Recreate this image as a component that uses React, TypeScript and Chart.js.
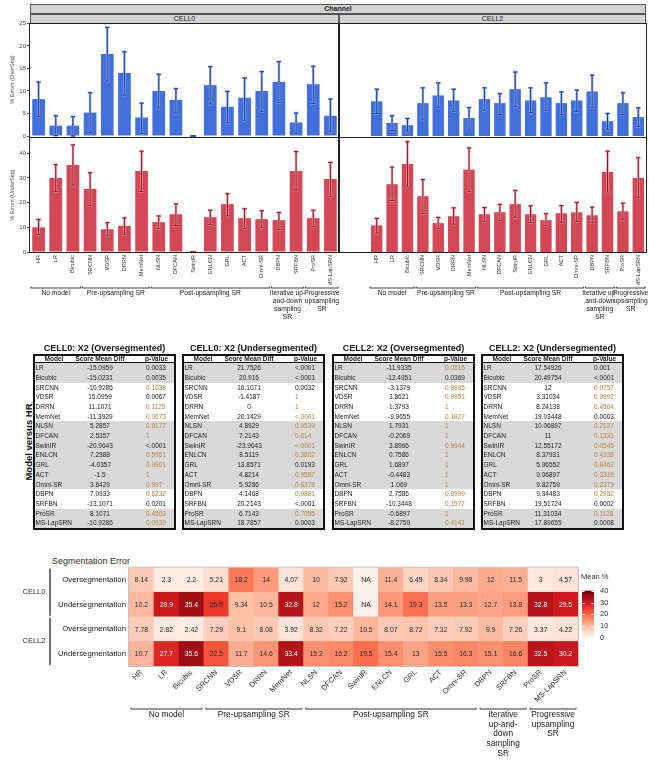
import React, { useEffect, useRef } from "react";
import { Chart, registerables } from "chart.js";
Chart.register(...registerables);

const FONT = "'Liberation Sans', Arial, Helvetica, sans-serif";

// ---------- categories ----------
const models = ["HR", "LR", "Bicubic", "SRCNN", "VDSR", "DRRN", "MemNet", "NLSN", "DFCAN", "SwinIR", "ENLCN", "GRL", "ACT", "Omni-SR", "DBPN", "SRFBN", "ProSR", "MS-LapSRN"];
const groupStart = [0, 3, 7, 14, 16];
const groupEnd = [2, 6, 13, 15, 17];
const barGroupLabels = [["No model"], ["Pre-upsampling SR"], ["Post-upsampling SR"], ["Iterative up-", "and-down", "sampling", "SR"], ["Progressive", "upsampling", "SR"]];
const heatGroupLabels = [["No model"], ["Pre-upsampling SR"], ["Post-upsampling SR"], ["Iterative", "up-and-", "down", "sampling", "SR"], ["Progressive", "upsampling", "SR"]];

// ---------- bar chart series (mean, lower and upper error) ----------
const cell0OverMean = [8.2, 2.3, 2.3, 5.2, 18.2, 14.0, 4.1, 10.0, 8.0, 0, 11.3, 6.5, 8.5, 10.0, 12.0, 3.0, 11.5, 4.5];
const cell0OverLo = [4.3, 0.1, 0.0, 0.8, 12.2, 9.1, 0.6, 6.2, 5.1, 0, 7.1, 2.9, 3.5, 5.5, 7.4, 0.6, 7.2, 0.9];
const cell0OverHi = [12.0, 4.5, 4.3, 9.6, 24.1, 18.7, 7.3, 13.7, 10.5, 0, 15.4, 9.9, 12.9, 14.3, 16.5, 5.1, 15.5, 8.2];

const cell2OverMean = [7.7, 2.9, 2.4, 7.3, 9.0, 7.9, 4.0, 8.2, 7.3, 10.4, 7.9, 8.6, 7.3, 7.9, 9.9, 3.3, 7.3, 4.2];
const cell2OverLo = [5.0, 1.2, 1.1, 3.75, 6.4, 5.5, 1.3, 5.6, 4.8, 6.6, 5.2, 5.6, 4.8, 5.5, 6.25, 1.5, 4.8, 2.1];
const cell2OverHi = [10.4, 4.5, 3.9, 10.7, 11.8, 10.4, 6.3, 10.7, 9.4, 14.2, 10.7, 11.8, 9.8, 10.2, 13.5, 5.0, 9.6, 6.25];

const cell0UnderMean = [10.0, 30.0, 35.3, 25.6, 9.2, 10.6, 32.8, 12.1, 15.3, 0, 14.1, 19.4, 13.7, 13.3, 12.9, 32.8, 13.7, 29.6];
const cell0UnderLo = [7.05, 24.4, 27.1, 18.7, 6.5, 7.2, 24.5, 9.4, 10.7, 0, 11.1, 14.6, 9.5, 9.8, 9.1, 25.1, 10.3, 22.4];
const cell0UnderHi = [13.2, 35.4, 43.4, 32.1, 11.9, 13.8, 40.8, 14.6, 19.5, 0, 16.9, 23.6, 17.5, 16.7, 16.0, 40.7, 16.9, 36.3];

const cell2UnderMean = [10.8, 27.5, 35.7, 22.6, 11.7, 14.5, 33.4, 15.3, 16.1, 19.4, 15.3, 12.9, 15.7, 16.1, 14.9, 32.4, 16.5, 30.0];
const cell2UnderLo = [7.7, 20.9, 26.4, 15.6, 9.5, 11.3, 24.4, 12.3, 12.7, 14.1, 11.9, 10.6, 12.1, 12.3, 11.8, 24.3, 13.3, 22.2];
const cell2UnderHi = [13.6, 34.4, 44.7, 29.4, 14.0, 17.9, 42.2, 18.0, 19.3, 24.9, 18.7, 15.5, 18.8, 20.1, 18.2, 40.8, 19.8, 38.2];

// ---------- tables ----------
const tableModels = ["LR", "Bicubic", "SRCNN", "VDSR", "DRRN", "MemNet", "NLSN", "DFCAN", "SwinIR", "ENLCN", "GRL", "ACT", "Omni-SR", "DBPN", "SRFBN", "ProSR", "MS-LapSRN"];
const tableGray = [1, 1, 0, 0, 0, 0, 1, 1, 1, 1, 1, 1, 1, 0, 0, 1, 1];

const t1Title = "CELL0: X2 (Oversegmented)";
const t1Diff = ["-15.0959", "-15.0231", "-10.9286", "15.0959", "11.1071", "-11.3929", "5.2857", "2.5357", "-20.9643", "7.2388", "-4.0357", "-1.5", "3.6429", "7.0933", "-13.1071", "8.1071", "-10.9286"];
const t1P = ["0.0033", "0.0035", "0.1038", "0.0067", "0.1125", "0.0673", "0.9177", "1", "<.0001", "0.5951", "0.9901", "1", "0.997", "0.6232", "0.0201", "0.4503", "0.0939"];
const t1Hl = [0, 0, 1, 0, 1, 1, 1, 1, 0, 1, 1, 1, 1, 1, 0, 1, 1];

const t2Title = "CELL0: X2 (Undersegmented)";
const t2Diff = ["21.7526", "20.916", "16.1071", "-1.4187", "0", "20.1429", "4.8929", "7.2143", "-23.9643", "8.5119", "13.8571", "4.8214", "5.9286", "4.1468", "20.2143", "6.7143", "18.7857"];
const t2P = ["<.0001", "<.0001", "0.0032", "1", "1", "<.0001", "0.9539", "0.614", "<.0001", "0.3802", "0.0193", "0.9587", "0.8378", "0.9881", "<.0001", "0.7055", "0.0003"];
const t2Hl = [0, 0, 0, 1, 1, 1, 1, 1, 1, 1, 0, 1, 1, 1, 0, 1, 0];

const t3Title = "CELL2: X2 (Oversegmented)";
const t3Diff = ["-11.9335", "-12.4951", "-3.1379", "3.8621", "1.3793", "-9.9655", "1.7931", "-0.2069", "3.8966", "0.7586", "1.6897", "-0.4483", "1.069", "2.7586", "-10.3448", "-0.6897", "-8.2759"];
const t3P = ["0.0515", "0.0369", "0.9995", "0.9951", "1", "0.1827", "1", "1", "0.9944", "1", "1", "1", "1", "0.9999", "0.1577", "1", "0.4141"];
const t3Hl = [1, 0, 1, 1, 1, 1, 1, 1, 1, 1, 1, 1, 1, 1, 1, 1, 1];

const t4Title = "CELL2: X2 (Undersegmented)";
const t4Diff = ["17.54926", "20.49754", "12", "3.31034", "8.24138", "19.03448", "10.06897", "11", "12.55172", "8.37931", "5.96552", "9.06897", "9.82759", "9.34483", "19.51724", "11.31034", "17.89655"];
const t4P = ["0.001", "<.0001", "0.0757", "0.9992", "0.4564", "0.0003", "0.2127", "0.1331", "0.0545", "0.4338", "0.8462", "0.3318", "0.2379", "0.2952", "0.0002", "0.1128", "0.0008"];
const t4Hl = [0, 0, 1, 1, 1, 0, 1, 1, 1, 1, 1, 1, 1, 1, 0, 1, 0];

// ---------- heatmap ----------
const heatRowNames = ["Oversegmentation", "Undersegmentation", "Oversegmentation", "Undersegmentation"];
const heatRowKeys = ["c0o", "c0u", "c2o", "c2u"];
const heatCellNames = ["CELL0", "CELL2"];
const heatC0Over = [8.14, 2.3, 2.2, 5.21, 18.2, 14, 4.07, 10, 7.92, null, 11.4, 6.49, 8.34, 9.98, 12, 11.5, 3, 4.57];
const heatC0Under = [10.2, 29.9, 35.4, 25.5, 9.34, 10.5, 32.8, 12, 15.2, null, 14.1, 19.3, 13.5, 13.3, 12.7, 13.8, 32.8, 29.5];
const heatC2Over = [7.78, 2.82, 2.42, 7.29, 9.1, 8.08, 3.92, 8.32, 7.22, 10.5, 8.07, 8.72, 7.32, 7.92, 9.9, 7.26, 3.37, 4.22];
const heatC2Under = [10.7, 27.7, 35.6, 22.5, 11.7, 14.6, 33.4, 15.2, 16.2, 19.5, 15.4, 13, 15.5, 16.3, 15.1, 16.6, 32.5, 30.2];
const colorTicks = [0, 10, 20, 30, 40];

const redStops = ["#fff5f0", "#fee0d2", "#fcbba1", "#fc9272", "#fb6a4a", "#ef3b2c", "#cb181d", "#a50f15", "#67000d"];
function hexRgb(h: string) {
  return [parseInt(h.slice(1, 3), 16), parseInt(h.slice(3, 5), 16), parseInt(h.slice(5, 7), 16)];
}
function redScale(v: number) {
  const t = Math.max(0, Math.min(1, v / 40)) * 8;
  const i = Math.min(7, Math.floor(t));
  const f = t - i;
  const a = hexRgb(redStops[i]);
  const b = hexRgb(redStops[i + 1]);
  const c = a.map((x, k) => Math.round(x + (b[k] - x) * f));
  return `rgb(${c[0]},${c[1]},${c[2]})`;
}

function drawGroups(chart: any, labels: string[][], opt: any) {
  const xs = chart.scales.x;
  const ctx = chart.ctx;
  const half = (xs.getPixelForValue(1) - xs.getPixelForValue(0)) / 2;
  const y = xs.bottom + opt.gapY;
  ctx.save();
  groupStart.forEach((s, g) => {
    const x0 = xs.getPixelForValue(s) - half + opt.inset;
    const x1 = xs.getPixelForValue(groupEnd[g]) + half - opt.inset;
    ctx.strokeStyle = opt.lineColor;
    ctx.lineWidth = opt.lineWidth;
    ctx.beginPath();
    ctx.moveTo(x0, y);
    ctx.lineTo(x1, y);
    ctx.moveTo(x0, y - 1.5);
    ctx.lineTo(x0, y + 0.5);
    ctx.moveTo(x1, y - 1.5);
    ctx.lineTo(x1, y + 0.5);
    ctx.stroke();
    ctx.fillStyle = "#222";
    ctx.font = `${opt.fontSize}px ${FONT}`;
    ctx.textAlign = "center";
    ctx.textBaseline = "middle";
    labels[g].forEach((ln, k) => {
      ctx.fillText(ln, (x0 + x1) / 2, y + opt.firstLine + k * opt.lineH);
    });
  });
  ctx.restore();
}

function BarPanel(p: any) {
  const ref = useRef<HTMLCanvasElement | null>(null);
  useEffect(() => {
    if (!ref.current) return;
    const errPlugin = {
      id: "errbars",
      afterDatasetsDraw(chart: any) {
        const ctx = chart.ctx;
        const meta = chart.getDatasetMeta(0);
        const ys = chart.scales.y;
        ctx.save();
        meta.data.forEach((bar: any, i: number) => {
          const x = bar.x;
          const yl = ys.getPixelForValue(p.lo[i]);
          const yh = ys.getPixelForValue(p.hi[i]);
          const cap = p.hi[i] === 0 ? 3 : 2.2;
          const path = () => {
            ctx.beginPath();
            ctx.moveTo(x, yl);
            ctx.lineTo(x, yh);
            ctx.moveTo(x - cap, yh);
            ctx.lineTo(x + cap, yh);
            ctx.moveTo(x - cap, yl);
            ctx.lineTo(x + cap, yl);
            ctx.stroke();
          };
          ctx.strokeStyle = p.light;
          ctx.lineWidth = 2.4;
          path();
          ctx.strokeStyle = p.dark;
          ctx.lineWidth = 1;
          path();
        });
        ctx.restore();
      },
    };
    const groupPlugin = {
      id: "groups",
      afterDraw(chart: any) {
        drawGroups(chart, barGroupLabels, { gapY: 3, inset: 1, lineColor: "#444", lineWidth: 1.1, fontSize: 6.7, firstLine: 5, lineH: 8 });
      },
    };
    const xScale: any = {
      display: p.showX,
      grid: { display: false, drawTicks: false },
      border: { display: false },
      ticks: { autoSkip: false, minRotation: 90, maxRotation: 90, padding: 3, color: "#333", font: { family: FONT, size: 5.6 } },
    };
    if (p.xHeight) xScale.afterFit = (s: any) => { s.height = p.xHeight; };
    const chart = new Chart(ref.current, {
      type: "bar",
      data: {
        labels: models,
        datasets: [{ data: p.mean, backgroundColor: p.fill, borderWidth: 0, barPercentage: 0.74, categoryPercentage: 1 }],
      },
      options: {
        animation: false,
        responsive: false,
        maintainAspectRatio: false,
        layout: { padding: p.pad },
        plugins: { legend: { display: false }, tooltip: { enabled: false }, title: { display: false } },
        scales: {
          x: xScale,
          y: {
            display: p.showY,
            min: 0,
            max: p.yMax,
            grid: { drawOnChartArea: false, drawTicks: true, tickLength: 3, color: "#555" },
            border: { display: false },
            ticks: { stepSize: p.yStep, includeBounds: false, padding: 1, color: "#444", font: { family: FONT, size: 6 } },
            title: { display: !!p.yTitle, text: p.yTitle, color: "#555", font: { family: FONT, size: 5.5 }, padding: { top: 9, bottom: 0 } },
            afterFit: (s: any) => { s.width = 30; },
          },
        },
      } as any,
      plugins: p.showX ? [errPlugin, groupPlugin] : [errPlugin],
    });
    return () => chart.destroy();
  }, []);
  return (
    <canvas
      ref={ref}
      width={p.width}
      height={p.height}
      style={{ position: "absolute", left: p.left, top: p.top, width: p.width, height: p.height }}
    />
  );
}

function Heatmap() {
  const ref = useRef<HTMLCanvasElement | null>(null);
  useEffect(() => {
    if (!ref.current) return;
    const heatValues = [heatC0Over, heatC0Under, heatC2Over, heatC2Under];
    const heatPlugin = {
      id: "heat",
      beforeDatasetsDraw(chart: any) {
        const { ctx, chartArea } = chart;
        const x = chart.scales.x;
        const y = chart.scales.y;
        const cw = x.getPixelForValue(1) - x.getPixelForValue(0);
        const ch = Math.abs(y.getPixelForValue(1) - y.getPixelForValue(0));
        ctx.save();
        chart.data.datasets.forEach((ds: any, r: number) => {
          ds.data.forEach((pt: any, i: number) => {
            const cx = x.getPixelForValue(i);
            const cy = y.getPixelForValue(r);
            ctx.fillStyle = pt.v == null ? "#fdf1ec" : redScale(pt.v);
            ctx.fillRect(cx - cw / 2 - 0.3, cy - ch / 2 - 0.3, cw + 0.6, ch + 0.6);
          });
        });
        ctx.font = `6.8px ${FONT}`;
        ctx.textAlign = "center";
        ctx.textBaseline = "middle";
        chart.data.datasets.forEach((ds: any, r: number) => {
          ds.data.forEach((pt: any, i: number) => {
            const cx = x.getPixelForValue(i);
            const cy = y.getPixelForValue(r);
            ctx.fillStyle = pt.v != null && pt.v > 26 ? "#ffffff" : "#2a2a2a";
            ctx.fillText(pt.v == null ? "NA" : String(pt.v), cx, cy + 0.5);
          });
        });
        ctx.strokeStyle = "#c4c4c4";
        ctx.lineWidth = 1;
        ctx.strokeRect(chartArea.left - 0.5, chartArea.top - 0.5, chartArea.width + 1, chartArea.height + 1);
        ctx.restore();
      },
      afterDraw(chart: any) {
        const { ctx, chartArea } = chart;
        const y = chart.scales.y;
        const ch = Math.abs(y.getPixelForValue(1) - y.getPixelForValue(0));
        ctx.save();
        heatCellNames.forEach((nm, c) => {
          const top = y.getPixelForValue(c * 2) - ch / 2 + 1;
          const bot = y.getPixelForValue(c * 2 + 1) + ch / 2 - 1;
          const lx = chartArea.left - 79;
          ctx.strokeStyle = "#333";
          ctx.lineWidth = 1.4;
          ctx.beginPath();
          ctx.moveTo(lx, top);
          ctx.lineTo(lx, bot);
          ctx.stroke();
          ctx.fillStyle = "#333";
          ctx.font = `7.5px ${FONT}`;
          ctx.textAlign = "center";
          ctx.textBaseline = "middle";
          ctx.fillText(nm, chartArea.left - 95, (top + bot) / 2);
        });
        const bx = chartArea.right + 4;
        const bw = 12;
        const yTop = chartArea.top + 23;
        const yBot = chartArea.top + 70.5;
        const vy = (v: number) => yBot - (v / 40) * (yBot - yTop);
        const grad = ctx.createLinearGradient(0, yBot, 0, yTop);
        for (let k = 0; k <= 20; k++) grad.addColorStop(k / 20, redScale((k / 20) * 40));
        ctx.fillStyle = grad;
        ctx.fillRect(bx, yTop, bw, yBot - yTop);
        ctx.strokeStyle = "#ffffff";
        ctx.lineWidth = 1;
        ctx.fillStyle = "#333";
        ctx.font = `7.5px ${FONT}`;
        ctx.textAlign = "left";
        ctx.textBaseline = "middle";
        colorTicks.forEach((t) => {
          const ty = Math.round(vy(t)) + 0.5;
          ctx.beginPath();
          ctx.moveTo(bx, ty);
          ctx.lineTo(bx + 2.5, ty);
          ctx.moveTo(bx + bw - 2.5, ty);
          ctx.lineTo(bx + bw, ty);
          ctx.stroke();
          ctx.fillText(String(t), bx + bw + 6, vy(t));
        });
        ctx.fillText("Mean %", bx - 1, chartArea.top + 9);
        ctx.restore();
        drawGroups(chart, heatGroupLabels, { gapY: 3, inset: 2, lineColor: "#777", lineWidth: 1.4, fontSize: 8.3, firstLine: 6, lineH: 9.6 });
      },
    };
    const chart = new Chart(ref.current, {
      type: "line",
      data: {
        labels: models,
        datasets: heatRowKeys.map((k, r) => ({
          data: heatValues[r].map((v, i) => ({ x: models[i], y: k, v })),
          showLine: false,
          pointRadius: 0,
          pointHoverRadius: 0,
        })),
      },
      options: {
        animation: false,
        responsive: false,
        maintainAspectRatio: false,
        layout: { padding: { top: 7, bottom: 55, left: 0, right: 71 } },
        plugins: { legend: { display: false }, tooltip: { enabled: false } },
        scales: {
          x: {
            type: "category",
            labels: models,
            offset: true,
            grid: { display: false, drawTicks: false },
            border: { display: false },
            ticks: { autoSkip: false, minRotation: 45, maxRotation: 45, padding: 2, color: "#333", font: { family: FONT, size: 7.5 } },
            afterFit: (s: any) => { s.height = 40; },
          },
          y: {
            type: "category",
            labels: heatRowKeys,
            offset: true,
            grid: { display: false, drawTicks: false },
            border: { display: false },
            ticks: { padding: 3, color: "#222", font: { family: FONT, size: 7.8 }, callback: (_v: any, i: number) => heatRowNames[i] },
            afterFit: (s: any) => { s.width = 129; },
          },
        },
      } as any,
      plugins: [heatPlugin],
    });
    return () => chart.destroy();
  }, []);
  return <canvas ref={ref} width={649} height={201} style={{ position: "absolute", left: 0, top: 560, width: 649, height: 201 }} />;
}

function StatTable(p: any) {
  return (
    <div style={{ position: "absolute", left: p.left, top: 342, width: 143 }}>
      <div style={{ position: "absolute", left: -15, width: 173, top: 0, height: 12, lineHeight: "12px", textAlign: "center", fontFamily: FONT, fontWeight: "bold", fontSize: 9, color: "#111", whiteSpace: "nowrap" }}>{p.title}</div>
      <div style={{ position: "absolute", left: 0, top: 12, width: 143, border: "2px solid #111", boxSizing: "border-box", background: "#fff", fontFamily: FONT, fontSize: 6.5, color: "#222" }}>
        <div style={{ position: "relative", height: 6.3, borderBottom: "1.5px solid #111", fontWeight: "bold", lineHeight: "6.3px" }}>
          <span style={{ position: "absolute", left: 0, width: 38, textAlign: "center" }}>Model</span>
          <span style={{ position: "absolute", left: 38, width: 54, textAlign: "center", whiteSpace: "nowrap" }}>Score Mean Diff</span>
          <span style={{ position: "absolute", left: 110, whiteSpace: "nowrap" }}>p-Value</span>
        </div>
        {tableModels.map((m, i) => (
          <div key={i} style={{ position: "relative", height: 9.7, lineHeight: "9.7px", background: tableGray[i] ? "#d9d9d9" : "#ffffff" }}>
            <span style={{ position: "absolute", left: 0.5, width: 38, overflow: "hidden", whiteSpace: "nowrap" }}>{m}</span>
            <span style={{ position: "absolute", left: 38, width: 54, textAlign: "center" }}>{p.diff[i]}</span>
            <span style={{ position: "absolute", left: 111, color: p.hl[i] ? "#b8823a" : "#222" }}>{p.p[i]}</span>
          </div>
        ))}
      </div>
    </div>
  );
}

export default function App() {
  const strip = { position: "absolute" as const, background: "#d3d3d3", border: "1px solid #555", boxSizing: "border-box" as const, fontFamily: FONT, fontSize: 7, color: "#222", textAlign: "center" as const, lineHeight: "8px" };
  const box = { position: "absolute" as const, border: "1px solid #222", boxSizing: "border-box" as const, pointerEvents: "none" as const };
  const blue = { fill: "#4170dd", light: "rgba(150,172,235,0.95)", dark: "#1d3c9a" };
  const red = { fill: "#d44856", light: "rgba(235,160,168,0.95)", dark: "#8e1426" };
  return (
    <div style={{ position: "absolute", left: 0, top: 0, width: 649, height: 761, overflow: "hidden", background: "#fff" }}>
      <div style={{ ...strip, left: 30, top: 4, width: 616, height: 10, fontWeight: "bold" }}>Channel</div>
      <div style={{ ...strip, left: 30, top: 14, width: 309, height: 10 }}>CELL0</div>
      <div style={{ ...strip, left: 339, top: 14, width: 307, height: 10 }}>CELL2</div>

      <BarPanel left={0} top={16} width={339} height={127} pad={{ top: 7, bottom: 7, left: 0, right: 0 }}
        mean={cell0OverMean} lo={cell0OverLo} hi={cell0OverHi} {...blue}
        yMax={25.1} yStep={5} showY={true} yTitle="% Errors (OverSeg)" showX={false} />
      <BarPanel left={339} top={16} width={307} height={127} pad={{ top: 7, bottom: 7, left: 0, right: 0 }}
        mean={cell2OverMean} lo={cell2OverLo} hi={cell2OverHi} {...blue}
        yMax={25.1} yStep={5} showY={false} showX={false} />
      <BarPanel left={0} top={131} width={364} height={194} pad={{ top: 7, bottom: 40, left: 0, right: 25 }}
        mean={cell0UnderMean} lo={cell0UnderLo} hi={cell0UnderHi} {...red}
        yMax={46.2} yStep={10} showY={true} yTitle="% Errors (UnderSeg)" showX={true} xHeight={33} />
      <BarPanel left={339} top={131} width={310} height={194} pad={{ top: 7, bottom: 40, left: 0, right: 3 }}
        mean={cell2UnderMean} lo={cell2UnderLo} hi={cell2UnderHi} {...red}
        yMax={46.2} yStep={10} showY={false} showX={true} xHeight={33} />

      <div style={{ ...box, left: 29, top: 23, width: 311, height: 115 }} />
      <div style={{ ...box, left: 29, top: 137, width: 311, height: 116 }} />
      <div style={{ ...box, left: 338, top: 23, width: 309, height: 115 }} />
      <div style={{ ...box, left: 338, top: 137, width: 309, height: 116 }} />

      <div style={{ position: "absolute", left: 28, top: 442, transform: "translate(-50%, -50%) rotate(-90deg)", fontFamily: FONT, fontWeight: "bold", fontSize: 9.5, color: "#111", whiteSpace: "nowrap" }}>Model versus HR</div>
      <StatTable left={33} title={t1Title} diff={t1Diff} p={t1P} hl={t1Hl} />
      <StatTable left={182} title={t2Title} diff={t2Diff} p={t2P} hl={t2Hl} />
      <StatTable left={332} title={t3Title} diff={t3Diff} p={t3P} hl={t3Hl} />
      <StatTable left={481} title={t4Title} diff={t4Diff} p={t4P} hl={t4Hl} />

      <div style={{ position: "absolute", left: 52, top: 555, fontFamily: FONT, fontSize: 9, color: "#333", whiteSpace: "nowrap", lineHeight: "12px" }}>Segmentation Error</div>
      <Heatmap />
    </div>
  );
}
